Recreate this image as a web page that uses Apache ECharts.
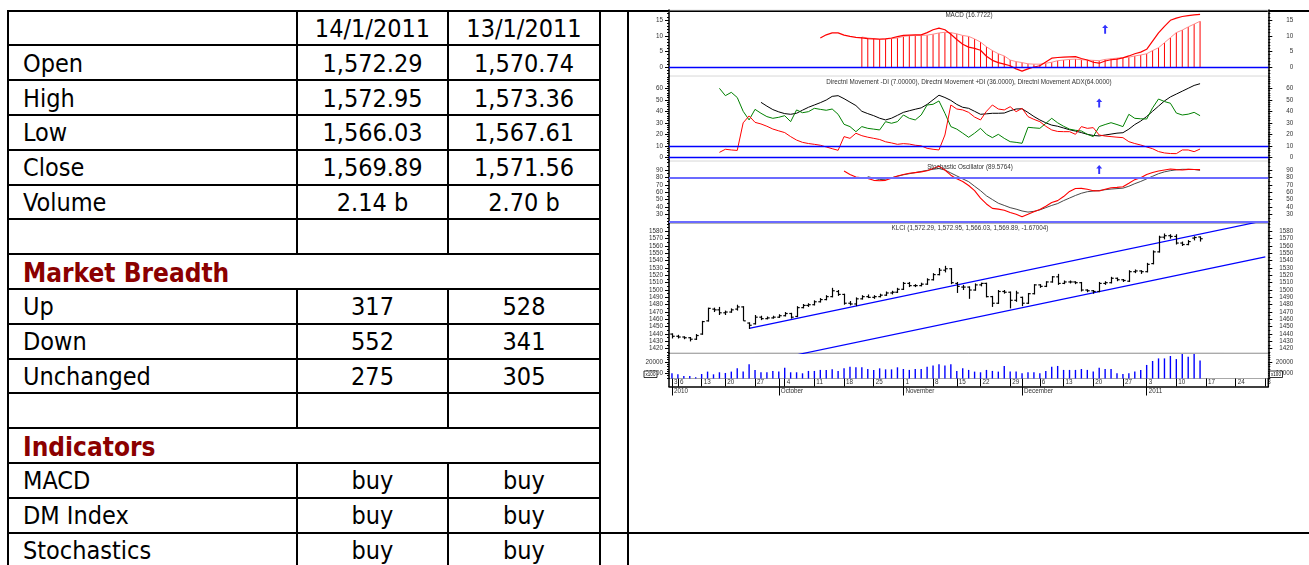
<!DOCTYPE html>
<html><head><meta charset="utf-8">
<script src="https://cdn.jsdelivr.net/npm/echarts@6/dist/echarts.min.js"></script>
<style>
html,body{margin:0;padding:0;background:#fff;width:1309px;height:565px;overflow:hidden;}
#tbl{position:absolute;left:0;top:0;width:1309px;height:565px;font-family:"DejaVu Sans Condensed","DejaVu Sans",sans-serif;}
.ln{position:absolute;background:#000;}
.tx{position:absolute;font-size:25px;white-space:nowrap;color:#000;padding-top:1.5px;}
.sec{font-weight:bold;color:#8B0000;font-size:26px;}
#chart{position:absolute;left:0;top:0;width:1309px;height:565px;}
</style></head><body>
<div id="tbl"></div><div id="chart"></div>
<script>
// ---------------- TABLE DATA ----------------
const HEAD_DATES = ['14/1/2011', '13/1/2011'];
const T_OPEN = [1572.29, 1570.74];
const T_HIGH = [1572.95, 1573.36];
const T_LOW = [1566.03, 1567.61];
const T_CLOSE = [1569.89, 1571.56];
const T_VOLUME = ['2.14 b', '2.70 b'];
const B_UP = [317, 528];
const B_DOWN = [552, 341];
const B_UNCH = [275, 305];
const I_MACD = ['buy', 'buy'];
const I_DMI = ['buy', 'buy'];
const I_STOCH = ['buy', 'buy'];

// ---------------- CHART DATA ----------------
const HOLIDAYS = ['2010-09-10','2010-09-16','2010-11-10','2010-11-17','2010-12-07','2010-12-31'];
const MONTH_NAMES = ['January','February','March','April','May','June','July','August','September','October','November','December'];
const MACD_TICKS = [0,5,10,15];
const DMI_TICKS = [0,10,20,30,40,50,60];
const STOCH_TICKS = [30,40,50,60,70,80,90];
const PRICE_TICKS = [1420,1430,1440,1450,1460,1470,1480,1490,1500,1510,1520,1530,1540,1550,1560,1570,1580];
const VOL_TICKS = [10000,20000];

const TITLE_MACD = 'MACD (16.7722)';
const TITLE_DMI = 'Directnl Movement -DI (7.00000), Directnl Movement +DI (36.0000), Directnl Movement ADX(64.0000)';
const TITLE_STOCH = 'Stochastic Oscillator (89.5764)';
const TITLE_PRICE = 'KLCI (1,572.29, 1,572.95, 1,566.03, 1,569.89, -1.67004)';

const MACD_START = 25;
const MACD = [9.3,10.3,10.9,10.9,10.2,9.8,9.5,9.3,9.1,9.0,8.9,9.0,9.3,9.7,10.1,10.2,10.3,10.3,11.0,11.9,12.4,11.9,10.5,8.8,7.3,6.4,6.0,5.4,3.5,2.2,1.5,1.0,0.5,-0.5,-1.2,-0.5,0.1,0.5,1.7,2.9,3.1,3.2,3.3,3.4,2.8,2.3,1.6,1.3,2.0,2.4,2.6,3.0,3.6,4.3,4.8,5.7,8.3,10.9,13.0,14.9,15.6,16.1,16.4,16.6,16.8];
const SIGNAL_START = 32;
const SIGNAL = [9.6,9.3,9.1,9.0,9.0,9.1,9.3,9.8,10.0,10.1,10.1,10.2,10.5,10.9,11.1,11.0,10.6,10.1,9.8,9.0,8.0,6.5,5.3,4.3,3.6,2.3,1.8,1.5,1.1,1.0,1.0,1.3,1.6,2.1,2.3,2.5,2.6,2.4,2.3,2.2,2.1,2.5,2.7,2.9,3.1,3.2,3.6,3.9,4.3,5.3,6.2,7.8,9.4,11.0,11.8,12.8,13.7,14.6];

const DI_START = 8;
const PLUS_DI = [60,53.6,56.5,52,40,32.5,41.7,38.3,35.4,33.9,34.8,36.2,31,41.2,38.8,39.7,42.6,41.7,40.9,42,37.4,28.7,26.7,22.3,26.7,25.2,24.5,23.8,31,29.6,31,36.8,33.9,32.5,36.8,45.5,46.1,49,38.3,26.7,24.5,21,17.4,21,25.2,20,17.1,20,16.5,13.6,13,12.2,26.1,25.6,25.2,29.5,33.9,30,27,24.5,23.5,22.9,20,18,26.7,28.5,30.1,28.5,26.7,37.4,33.9,33.5,33.3,43,50.7,48.5,47,38.5,36.8,37.5,39.1,36.2];
const MINUS_DI = [4.3,7,6.4,6,30,36,30.4,29,27,24.6,23,21.5,18,15,13,12,11.3,10.5,9,7.5,6.1,18,16.5,20.9,18.8,17.5,16.5,15.5,13.5,12.5,11.3,11.9,11.5,10.5,10,7.8,7,6.4,19.4,45.5,42,41.2,39.1,35,32.5,40,45.5,42,41.2,44,39.7,42.6,35.4,33,31,27,23.8,22.5,22.3,22.3,20,26.7,25.2,25.8,19.4,18.5,18,17.5,17.1,13.6,12,10.7,9,7.5,5,3.8,3.3,3.2,6.4,6.4,4.9,7.2];
const ADX_START = 15;
const ADX = [47.8,44.5,41.5,39.5,38,37.4,38.3,41,43.5,45.5,47.5,49.8,53,53.6,51,48,45,40,38,36.2,34,32.5,34,36.5,39.1,40.5,41.8,43,46,50,54,52,49.5,46,43.5,42.6,40,37.4,37.8,38.3,38.3,38.5,40.5,42,42.2,39,35.5,32.5,30,28,27,25.5,24,22.8,21.5,20,19,18.6,19.4,20.2,21,21.4,24.5,28.5,31.5,35.5,40,44.5,49,52.5,55,57.5,60,62.5,64];

const K_START = 29;
const STOCH_K = [88.6,84,80.5,79.5,78.5,76,75.5,76,79,82,84,85.5,86.5,87.5,89,92,95,90,83,78,74.5,69,62,52,44,38,37,35.5,32.5,30,26.7,30,33.5,36.5,41,46,48.5,54,61,65,65.1,64,62,61.5,64,66,66.5,67.4,72,77,79.5,84,86.5,88.6,90,91.4,90.5,90,90.9,90.7,90.5];
const D_START = 33;
const STOCH_D = [81,79,77,77.5,79.5,81.5,83.5,85,86.5,88,89.5,91,92,90,86,82,78,74.2,68,62,55,50,45,42,39,37,34.5,33,34,36,39,42,44.5,48.5,52,55.5,58.5,60.6,61.5,62.2,63.3,64.2,64.8,65.4,68,71.5,74.5,78,81.5,85,87.5,89.1,90.3,90.9,90.9,90.7,89.6];

// [open, high, low, close]
const OHLC = [
[1440,1441,1434,1437],[1437,1439,1434,1436],[1436,1437,1433,1435],[1435,1436,1430,1433],[1433,1440,1432,1438],
[1440,1458,1439,1457],[1458,1476,1457,1475],[1474,1476,1470,1473],[1473,1477,1466,1469],[1469,1472,1466,1470],
[1470,1475,1469,1473],[1474,1480,1472,1477],[1477,1478,1458,1458],[1455,1456,1447,1452],[1454,1466,1453,1463],
[1463,1465,1459,1461],[1461,1464,1460,1462],[1462,1465,1461,1463],[1463,1467,1462,1465],[1465,1470,1464,1468],
[1468,1469,1461,1463],[1464,1478,1463,1476],[1476,1481,1475,1479],[1479,1482,1477,1480],[1480,1486,1479,1484],
[1484,1489,1483,1487],[1487,1493,1486,1491],[1491,1503,1490,1499],[1498,1500,1492,1494],[1494,1495,1480,1482],
[1482,1485,1479,1481],[1481,1490,1478,1488],[1488,1493,1487,1491],[1491,1494,1489,1490],[1490,1493,1488,1491],
[1491,1495,1490,1493],[1493,1498,1492,1496],[1496,1499,1494,1497],[1497,1503,1496,1501],[1501,1511,1500,1509],
[1509,1511,1504,1506],[1506,1508,1504,1506],[1506,1510,1505,1508],[1508,1516,1507,1514],[1514,1523,1513,1521],
[1521,1530,1520,1527],[1527,1533,1524,1529],[1529,1530,1508,1510],[1509,1511,1496,1505],[1504,1507,1500,1504],
[1504,1505,1488,1500],[1500,1509,1499,1507],[1507,1510,1505,1509],[1509,1510,1490,1491],[1491,1492,1477,1482],
[1482,1500,1481,1498],[1498,1500,1495,1497],[1497,1498,1475,1486],[1486,1499,1484,1496],[1490,1491,1478,1482],
[1482,1496,1481,1495],[1495,1508,1494,1507],[1507,1508,1503,1505],[1505,1512,1504,1511],[1511,1519,1510,1518],
[1518,1522,1507,1509],[1509,1513,1508,1511],[1511,1513,1509,1511],[1511,1512,1508,1510],[1510,1511,1498,1500],
[1500,1501,1497,1499],[1499,1500,1495,1498],[1498,1511,1497,1509],[1509,1512,1507,1510],[1510,1518,1509,1516],
[1516,1517,1512,1514],[1514,1515,1511,1513],[1512,1527,1511,1525],[1525,1528,1523,1526],[1526,1527,1522,1525],
[1525,1537,1524,1535],[1536,1554,1535,1552],[1552,1574,1551,1572],[1572,1577,1569,1574],[1574,1576,1570,1573],
[1573,1576,1562,1564],[1564,1566,1560,1562],[1562,1568,1561,1566],[1570.74,1573.36,1567.61,1571.56],[1572.29,1572.95,1566.03,1569.89]
];

const VOLUME = [10000,9100,7600,7600,6500,9400,11500,9100,10900,10300,11500,14400,11500,17900,13000,10900,10900,12100,11500,15000,
10900,10900,10000,12100,12100,13000,13000,13500,12100,14400,15900,15300,15300,13800,13000,14400,13500,13500,15300,13800,
13000,13800,13800,15900,16800,17900,16800,17900,12100,14400,13000,11500,10900,13000,12100,11500,16500,11500,11500,10000,
10900,10900,10000,12100,15900,16500,13000,13000,13000,13800,13000,11500,15000,13800,13800,10000,9400,10000,11500,13000,
17400,20900,23200,23200,25300,22600,27000,24700,27000,21400];

const UPPER_TREND = [['2010-09-24', 1447.8], ['2011-01-31', 1594.8]];
const LOWER_TREND = [['2010-09-03', 1376.2], ['2011-01-31', 1545.2]];
const MACD_ARROW = ['2010-12-22', 12.1];
const DMI_ARROW = ['2010-12-21', 47.2];
const STOCH_ARROW = ['2010-12-21', 90.7];

// ---------------- TABLE ----------------
const fmt2 = v => v.toLocaleString('en-US', {minimumFractionDigits:2, maximumFractionDigits:2});
const TABLE_ROWS = [
  ['', HEAD_DATES],
  ['Open', T_OPEN.map(fmt2)],
  ['High', T_HIGH.map(fmt2)],
  ['Low', T_LOW.map(fmt2)],
  ['Close', T_CLOSE.map(fmt2)],
  ['Volume', T_VOLUME],
  ['', ['', '']],
  ['Market Breadth', null],
  ['Up', B_UP.map(String)],
  ['Down', B_DOWN.map(String)],
  ['Unchanged', B_UNCH.map(String)],
  ['', ['', '']],
  ['Indicators', null],
  ['MACD', I_MACD],
  ['DM Index', I_DMI],
  ['Stochastics', I_STOCH]
];
const TOP = 10.5, RH = 34.8, X0 = 8, C1 = 297, C2 = 448, C3 = 600, C4 = 628, PW = 1309, PH = 565;
const T = document.getElementById('tbl');
function box(x, y, w, h){ const d = document.createElement('div'); d.className = 'ln';
  d.style.left = x + 'px'; d.style.top = y + 'px'; d.style.width = w + 'px'; d.style.height = h + 'px'; T.appendChild(d); }
for (let k = 0; k <= 15; k++) {
  const y = TOP + k * RH;
  const x2 = (k === 0 || k === 15) ? PW : C3 + 1;
  box(X0 - 1, y - 1, x2 - X0 + 1, 2);
}
[X0, C3, C4].forEach(x => box(x - 1, TOP - 1, 2, PH - TOP + 1));
[C1, C2].forEach(x => TABLE_ROWS.forEach((r, k) => { if (r[1] !== null) box(x - 1, TOP + k * RH - 1, 2, RH + 2); }));
const COLX = [C1, C2, C3];
TABLE_ROWS.forEach((r, k) => {
  const y = TOP + k * RH;
  const lab = document.createElement('div');
  lab.className = 'tx' + (r[1] === null ? ' sec' : '');
  lab.textContent = r[0]; lab.style.left = '23px'; lab.style.top = y + 'px';
  lab.style.height = RH + 'px'; lab.style.lineHeight = RH + 'px';
  T.appendChild(lab);
  if (r[1]) r[1].forEach((v, j) => {
    const d = document.createElement('div'); d.className = 'tx'; d.textContent = v;
    d.style.left = COLX[j] + 'px'; d.style.width = (COLX[j + 1] - COLX[j]) + 'px'; d.style.textAlign = 'center';
    d.style.top = y + 'px'; d.style.height = RH + 'px'; d.style.lineHeight = RH + 'px';
    T.appendChild(d);
  });
});

// ---------------- CHART ----------------
function tradingDays() {
  const out = []; let t = Date.UTC(2010, 8, 3); const end = Date.UTC(2011, 0, 31);
  while (t <= end) { const d = new Date(t); const w = d.getUTCDay(); const s = d.toISOString().slice(0, 10);
    if (w !== 0 && w !== 6 && !HOLIDAYS.includes(s)) out.push(s); t += 86400000; }
  return out;
}
const DATES = tradingDays();
const N = DATES.length;
const pad = (start, arr) => DATES.map((_, i) => (i >= start && i - start < arr.length) ? arr[i - start] : null);
const isWeek = i => i === 0 || new Date(DATES[i] + 'T00:00:00Z').getUTCDay() === 1;
const isMonth = i => i === 0 || DATES[i].slice(5, 7) !== DATES[i - 1].slice(5, 7);
const FONT = '"Liberation Sans", Arial, sans-serif';
const FS = 6.3;
const range = (a, b, s) => { const r = []; for (let v = a; v <= b + 1e-9; v += s) r.push(+v.toFixed(4)); return r; };

const GL = 669, GR = 1268.3;
const PANELS = [
  {top: 10, bottom: 76, min: -2.76, max: 18.17, major: MACD_TICKS, minor: range(-2, 18, 1), border: '#e4e4e4'},
  {top: 76, bottom: 161, min: -3.2, max: 70.7, major: DMI_TICKS, minor: range(-2, 70, 2), border: '#e4e4e4'},
  {top: 161, bottom: 223.3, min: 17.8, max: 102.2, major: STOCH_TICKS, minor: range(20, 100, 5), border: '#e4e4e4'},
  {top: 223.3, bottom: 353.3, min: 1413.8, max: 1590.9, major: PRICE_TICKS, minor: range(1415, 1590, 5), border: '#a8a8a8'},
  {top: 353.3, bottom: 378.5, min: 5400, max: 27700, major: VOL_TICKS, minor: range(6000, 26000, 2000), border: '#a8a8a8'}
];
const grids = PANELS.map(p => ({left: GL, width: GR - GL, top: p.top, height: p.bottom - p.top,
  show: true, borderColor: p.border, borderWidth: 1, backgroundColor: 'transparent'}));
const yAxes = [];
PANELS.forEach((p, g) => {
  ['left', 'right'].forEach(pos => {
    yAxes.push({type: 'value', gridIndex: g, position: pos, min: p.min, max: p.max,
      splitLine: {show: false},
      axisLine: {show: true, onZero: false, lineStyle: {color: '#000', width: 1.5}},
      axisTick: {show: true, customValues: p.major, length: 4, lineStyle: {color: '#000', width: 1}},
      axisLabel: {show: true, customValues: p.major, fontSize: FS, fontFamily: FONT, color: '#333',
        margin: pos === 'left' ? 6 : 25, align: 'right', formatter: v => String(v)}});
    yAxes.push({type: 'value', gridIndex: g, position: pos, min: p.min, max: p.max,
      splitLine: {show: false}, axisLine: {show: false},
      axisTick: {show: true, customValues: p.minor, length: 2, lineStyle: {color: '#000', width: 1}},
      axisLabel: {show: false}});
  });
});
const xAxes = PANELS.map((p, g) => ({type: 'category', gridIndex: g, data: DATES, boundaryGap: true,
  axisLine: {show: false, onZero: false}, axisTick: {show: false}, axisLabel: {show: false}, splitLine: {show: false}}));
xAxes[4] = {type: 'category', gridIndex: 4, data: DATES, boundaryGap: true, position: 'bottom', offset: 8,
  axisLine: {show: true, onZero: false, lineStyle: {color: '#000', width: 1.5}},
  axisTick: {show: true, inside: true, length: 8, alignWithLabel: true, interval: (i) => isWeek(i) || isMonth(i), lineStyle: {color: '#000', width: 1}},
  axisLabel: {show: true, inside: true, interval: (i) => isWeek(i), margin: 1, align: 'left', padding: [0, 0, 0, 2],
    fontSize: FS, fontFamily: FONT, color: '#333',
    formatter: (v, i) => { const d = String(+v.slice(8)); return i === N - 1 ? d.charAt(0) : d; }},
  splitLine: {show: false}};
xAxes.push({type: 'category', gridIndex: 4, data: DATES, boundaryGap: true, position: 'bottom', offset: 8,
  axisLine: {show: false, onZero: false},
  axisTick: {show: true, inside: false, length: 9, alignWithLabel: true, interval: (i) => isMonth(i), lineStyle: {color: '#000', width: 1}},
  axisLabel: {show: true, interval: (i) => isMonth(i), margin: 2, align: 'left', padding: [0, 0, 0, 2],
    fontSize: FS, fontFamily: FONT, color: '#333',
    formatter: (v, i) => { const m = +v.slice(5, 7); return (i === 0 || m === 1) ? v.slice(0, 4) : MONTH_NAMES[m - 1]; }},
  splitLine: {show: false}});

const ARROW = 'path://M5,0 L10,5 L6.6,5 L6.6,13 L3.4,13 L3.4,5 L0,5 Z';
const mline = (vals, color, width) => ({silent: true, symbol: 'none', animation: false, label: {show: false},
  lineStyle: {color: color, width: width, type: 'solid'}, emphasis: {disabled: true}, data: vals.map(v => ({yAxis: v}))});
const ln = (g, data, color, width, extra) => Object.assign({type: 'line', xAxisIndex: g, yAxisIndex: g * 4, data: data,
  symbol: 'none', silent: true, lineStyle: {color: color, width: width}, z: 3}, extra || {});
const arrow = (g, pt) => ({type: 'scatter', xAxisIndex: g, yAxisIndex: g * 4, data: [pt], symbol: ARROW,
  symbolSize: [6, 9], itemStyle: {color: '#0000ff'}, silent: true, z: 5});

const series = [
  {type: 'bar', xAxisIndex: 0, yAxisIndex: 0, data: pad(SIGNAL_START, SIGNAL), barWidth: 1, silent: true,
    itemStyle: {color: '#ff0000'}, markLine: mline([0], '#0000ff', 1.3)},
  ln(0, pad(SIGNAL_START, SIGNAL), '#ff8c8c', 1),
  ln(0, pad(MACD_START, MACD), '#ff0000', 1.2),
  arrow(0, MACD_ARROW),

  ln(1, pad(ADX_START, ADX), '#000000', 1, {markLine: mline([10, 0], '#0000ff', 1.3)}),
  ln(1, pad(DI_START, PLUS_DI), '#008000', 1),
  ln(1, pad(DI_START, MINUS_DI), '#ff0000', 1),
  arrow(1, DMI_ARROW),

  ln(2, pad(D_START, STOCH_D), '#333333', 0.9, {markLine: mline([80, 20], '#6b6bff', 2)}),
  ln(2, pad(K_START, STOCH_K), '#ff0000', 1.1),
  arrow(2, STOCH_ARROW),

  {type: 'custom', xAxisIndex: 3, yAxisIndex: 12, silent: true, z: 4,
    data: OHLC.map((d, i) => [DATES[i], d[0], d[1], d[2], d[3]]),
    encode: {x: 0, y: [1, 2, 3, 4]},
    renderItem: (params, api) => {
      const idx = api.value(0);
      const po = api.coord([idx, api.value(1)]), ph = api.coord([idx, api.value(2)]);
      const pl = api.coord([idx, api.value(3)]), pc = api.coord([idx, api.value(4)]);
      const x = Math.round(po[0]) + 0.5;
      const st = {stroke: '#000', lineWidth: 1.2};
      return {type: 'group', children: [
        {type: 'line', shape: {x1: x, y1: ph[1], x2: x, y2: pl[1]}, style: st},
        {type: 'line', shape: {x1: x - 2.2, y1: po[1], x2: x, y2: po[1]}, style: st},
        {type: 'line', shape: {x1: x, y1: pc[1], x2: x + 2.2, y2: pc[1]}, style: st}
      ]};
    }},
  ln(3, UPPER_TREND, '#0000ff', 1.2, {clip: true}),
  ln(3, LOWER_TREND, '#0000ff', 1.2, {clip: true}),

  {type: 'bar', xAxisIndex: 4, yAxisIndex: 16, data: VOLUME, barWidth: 1.4, silent: true, itemStyle: {color: '#0000ff'}}
];

const txt = (x, y, s) => ({type: 'text', x: x, y: y, z: 50, silent: true,
  style: {text: s, fontSize: FS, fontFamily: FONT, fill: '#333', align: 'center', verticalAlign: 'middle',
    textAlign: 'center', textVerticalAlign: 'middle'}});
const graphic = [
  txt(969, 15, TITLE_MACD),
  txt(969, 82, TITLE_DMI),
  txt(970, 167.5, TITLE_STOCH),
  txt(970, 228.5, TITLE_PRICE),
  {type: 'line', z: 50, silent: true, shape: {x1: GL, y1: 378, x2: GL, y2: 387}, style: {stroke: '#000', lineWidth: 1.5}},
  {type: 'line', z: 50, silent: true, shape: {x1: GR, y1: 378, x2: GR, y2: 387}, style: {stroke: '#000', lineWidth: 1.5}},
  {type: 'rect', z: 60, silent: true, shape: {x: 644, y: 371, width: 13, height: 6.5}, style: {fill: '#fff', stroke: '#000', lineWidth: 0.8}},
  {type: 'text', z: 61, silent: true, x: 650.5, y: 374.3, style: {text: 'x100', fontSize: 4.5, fontFamily: FONT, fill: '#000',
    align: 'center', verticalAlign: 'middle', textAlign: 'center', textVerticalAlign: 'middle'}},
  {type: 'rect', z: 60, silent: true, shape: {x: 1269.5, y: 371, width: 13, height: 6.5}, style: {fill: '#fff', stroke: '#000', lineWidth: 0.8}},
  {type: 'text', z: 61, silent: true, x: 1276, y: 374.3, style: {text: 'x100', fontSize: 4.5, fontFamily: FONT, fill: '#000',
    align: 'center', verticalAlign: 'middle', textAlign: 'center', textVerticalAlign: 'middle'}}
];

const chart = echarts.init(document.getElementById('chart'), null, {renderer: 'canvas'});
chart.setOption({animation: false, backgroundColor: 'transparent', grid: grids, xAxis: xAxes, yAxis: yAxes,
  series: series, graphic: graphic});
</script></body></html>
